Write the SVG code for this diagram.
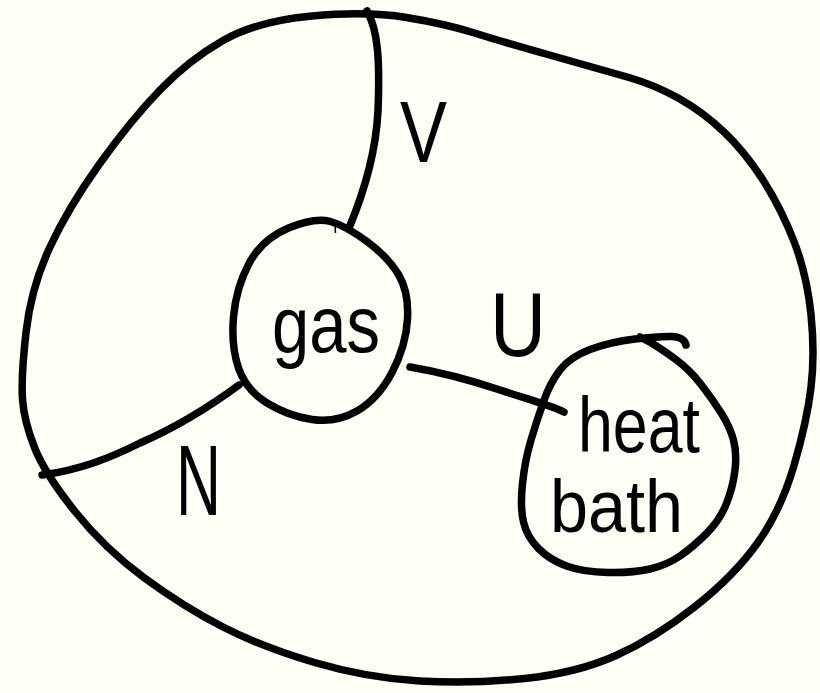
<svg xmlns="http://www.w3.org/2000/svg" width="820" height="693" viewBox="0 0 820 693">
<style>
.ln{fill:none;stroke:#000;stroke-width:7.5;stroke-linecap:round;stroke-linejoin:round}
.tx{font-family:"Liberation Sans","DejaVu Sans",sans-serif;fill:#000}
</style>
<rect width="820" height="693" fill="#fffff5"/>
<g id="system">
<path class="ln" d="M406.5,17.5 Q446,24 474.5,33 Q503,42 553,56 Q603,70 629,77.5 Q655,85 679,98.5 Q703,112 724,132 Q745,152 763,180 Q781,208 794,241.5 Q807,275 811,314.5 Q815,354 811,387.5 Q807,421 794,465.5 Q781,510 757.5,543 Q734,576 694.5,607 Q655,638 616,655.5 Q577,673 524.5,678.5 Q472,684 419.5,681 Q367,678 314.5,662.5 Q262,647 223,627 Q184,607 144.5,578 Q105,549 75,511.5 Q45,474 34.5,447.5 Q24,421 22.5,399 Q21,377 26,332.5 Q31,288 49.5,248 Q68,208 99.5,164 Q131,120 160,90 Q189,60 223,40.5 Q257,21 312,16 Q367,11 406.5,17.5 Z"/>
</g>
<g id="gas">
<path class="ln" d="M330.5,221.5 Q346,226 367,241.5 Q388,257 398.5,274.5 Q409,292 407.5,319 Q406,346 392,372.5 Q378,399 357,411 Q336,423 312,419.5 Q288,416 267,403 Q246,390 238.5,368 Q231,346 233.5,317 Q236,288 249,263.5 Q262,239 288.5,228 Q315,217 330.5,221.5 Z"/>
<path d="M335,224 L335.5,233" fill="none" stroke="#000" stroke-width="1.5"/>
<text class="tx" x="272" y="352" font-size="80" textLength="108" lengthAdjust="spacingAndGlyphs">gas</text>
</g>
<g id="heat-bath">
<path class="ln" d="M686,345 Q684,337 672,336.5 Q660,336 635,339 Q610,342 590,349.5 Q570,357 560,370 Q550,383 543.5,401.5 Q537,420 531,440 Q525,460 522.5,483.5 Q520,507 523.5,522 Q527,537 538.5,548.5 Q550,560 566.5,566 Q583,572 608,572.5 Q633,573 650,569 Q667,565 680,556 Q693,547 706.5,533.5 Q720,520 726.5,503.5 Q733,487 735,470 Q737,453 733.5,440 Q730,427 721.5,413.5 Q713,400 701.5,385 Q690,370 676.5,360 Q663,350 651.5,343 L640,337"/>
<text class="tx" x="578" y="452" font-size="78" textLength="122" lengthAdjust="spacingAndGlyphs">heat</text>
<text class="tx" x="550" y="532" font-size="74" textLength="133" lengthAdjust="spacingAndGlyphs">bath</text>
</g>
<g id="connectors">
<path class="ln" d="M367,11 C378,30 380,60 378,111 C376,150 365,190 349,228"/>
<path class="ln" d="M239,385 C205,410 170,430 140,443 C110,458 80,470 42,475"/>
<path class="ln" d="M410,367 C440,372 470,380 500,390 C530,400 550,405 564,412"/>
<text class="tx" x="400" y="162" font-size="87" textLength="47" lengthAdjust="spacingAndGlyphs">V</text>
<text class="tx" x="490" y="356" font-size="90" textLength="56" lengthAdjust="spacingAndGlyphs">U</text>
<text class="tx" x="176" y="515" font-size="100" textLength="45" lengthAdjust="spacingAndGlyphs">N</text>
</g>
</svg>
